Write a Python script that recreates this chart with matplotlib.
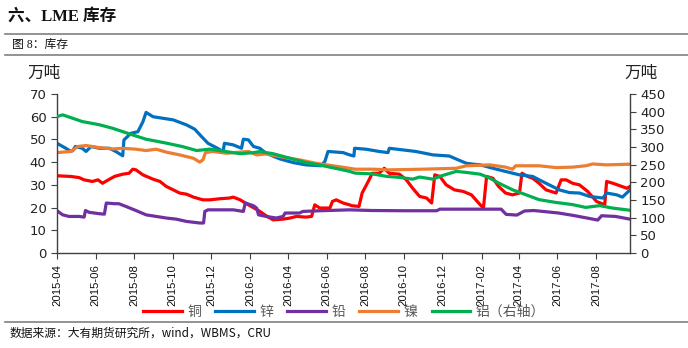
import matplotlib
matplotlib.use("Agg")
import matplotlib.pyplot as plt
from matplotlib.lines import Line2D
import pandas as pd

plt.rcParams['font.family'] = ['DejaVu Sans', 'Noto Sans CJK SC']

# ---------------- data (万吨) ----------------
copper_dates = ["2015-04-01","2015-04-23","2015-05-06","2015-05-14","2015-05-27","2015-06-05","2015-06-12",
    "2015-06-20","2015-07-01","2015-07-14","2015-07-24","2015-07-30","2015-08-04","2015-08-15","2015-08-31",
    "2015-09-11","2015-09-21","2015-10-02","2015-10-12","2015-10-23","2015-11-03","2015-11-18","2015-11-29",
    "2015-12-15","2015-12-30","2016-01-05","2016-01-16","2016-01-29","2016-02-14","2016-02-26","2016-03-08",
    "2016-03-24","2016-04-04","2016-04-14","2016-04-29","2016-05-08","2016-05-13","2016-05-21","2016-06-06",
    "2016-06-10","2016-06-16","2016-06-27","2016-07-07","2016-07-11","2016-07-22","2016-07-27","2016-08-07",
    "2016-08-12","2016-08-23","2016-08-31","2016-09-08","2016-09-24","2016-10-05","2016-10-15","2016-10-26",
    "2016-11-06","2016-11-14","2016-11-19","2016-11-27","2016-12-07","2016-12-20","2017-01-03","2017-01-16",
    "2017-01-30","2017-02-04","2017-02-09","2017-02-19","2017-02-28","2017-03-11","2017-03-22","2017-04-02",
    "2017-04-06","2017-04-15","2017-04-23","2017-05-03","2017-05-14","2017-05-30","2017-06-07","2017-06-15",
    "2017-06-25","2017-07-06","2017-07-19","2017-08-02","2017-08-15","2017-08-18","2017-08-28","2017-09-11",
    "2017-09-19","2017-09-24"]
copper_vals = [34.0,33.7,33.2,32.2,31.5,32.2,30.7,32.0,33.7,34.7,35.1,36.9,36.6,34.4,32.5,31.5,29.3,27.8,26.4,
    25.9,24.6,23.4,23.4,23.9,24.2,24.6,23.4,21.2,18.7,16.4,14.6,14.9,15.4,16.1,15.8,16.1,21.2,19.8,19.8,22.7,
    23.4,22.0,21.2,20.8,20.5,26.4,32.2,35.1,35.1,37.3,35.1,34.7,32.2,28.5,24.9,24.2,22.0,34.4,33.7,30.0,27.8,
    27.1,25.6,21.2,19.8,33.7,32.9,29.3,26.4,25.6,26.4,35.1,33.7,32.9,30.7,27.8,26.4,32.2,32.2,30.7,30.0,27.1,
    22.7,21.2,31.5,30.7,29.3,28.5,29.3]

zinc_dates = ["2015-04-01","2015-04-15","2015-04-23","2015-04-26","2015-04-30","2015-05-11","2015-05-17",
    "2015-05-25","2015-06-07","2015-06-23","2015-07-03","2015-07-14","2015-07-16","2015-07-27","2015-08-07",
    "2015-08-15","2015-08-20","2015-08-31","2015-09-16","2015-10-02","2015-10-23","2015-11-05","2015-11-16",
    "2015-11-26","2015-12-09","2015-12-20","2015-12-22","2016-01-05","2016-01-18","2016-01-21","2016-01-29",
    "2016-02-06","2016-02-16","2016-02-26","2016-03-19","2016-04-09","2016-04-29","2016-05-23","2016-05-29",
    "2016-06-03","2016-06-27","2016-07-07","2016-07-14","2016-07-15","2016-08-02","2016-08-23","2016-09-06",
    "2016-09-08","2016-09-29","2016-10-20","2016-11-16","2016-12-12","2016-12-26","2017-01-08","2017-01-19",
    "2017-01-30","2017-02-19","2017-03-11","2017-04-02","2017-04-23","2017-05-14","2017-06-04","2017-06-20",
    "2017-07-06","2017-07-22","2017-08-12","2017-08-18","2017-09-03","2017-09-12","2017-09-24"]
zinc_vals = [48.3,46.1,44.7,45.1,46.9,46.1,44.7,46.9,46.1,46.1,44.7,42.8,49.8,52.7,53.4,57.8,61.9,60.0,59.3,
    58.6,56.4,54.5,51.2,48.3,46.4,44.7,48.3,47.6,46.1,50.1,49.8,46.9,46.1,43.9,41.4,39.8,38.8,38.4,40.3,44.7,
    44.2,43.2,42.7,46.1,45.7,44.7,44.2,46.1,45.4,44.7,43.2,42.7,41.0,39.5,39.1,38.8,37.3,35.9,34.4,33.7,30.7,
    27.8,26.6,26.4,24.9,24.2,26.4,25.6,24.6,27.8]

lead_dates = ["2015-04-01","2015-04-10","2015-04-20","2015-05-06","2015-05-14","2015-05-16","2015-05-22",
    "2015-06-07","2015-06-15","2015-06-18","2015-07-01","2015-07-08","2015-07-19","2015-08-04","2015-08-20",
    "2015-09-05","2015-09-21","2015-10-07","2015-10-23","2015-11-13","2015-11-19","2015-11-21","2015-11-26",
    "2016-01-05","2016-01-21","2016-01-24","2016-02-06","2016-02-11","2016-02-14","2016-02-26","2016-03-13",
    "2016-03-24","2016-03-27","2016-04-19","2016-04-24","2016-05-21","2016-07-07","2016-08-12","2016-10-05",
    "2016-11-22","2016-11-27","2016-12-23","2017-01-22","2017-03-04","2017-03-12","2017-03-29","2017-04-10",
    "2017-04-25","2017-06-03","2017-06-27","2017-08-04","2017-08-10","2017-09-01","2017-09-24"]
lead_vals = [18.6,16.8,16.1,16.1,15.8,18.7,17.9,17.3,17.1,22.0,21.7,21.7,20.5,18.7,16.8,16.1,15.4,14.9,13.9,
    13.2,13.2,18.3,19.0,19.0,18.3,22.0,20.8,19.8,16.8,16.1,15.4,16.1,17.6,17.6,18.3,18.6,19.0,18.7,18.6,18.6,
    19.3,19.3,19.3,19.3,17.0,16.7,18.5,18.7,17.6,16.5,14.5,16.4,16.1,14.9]

nickel_dates = ["2015-04-01","2015-04-23","2015-05-04","2015-05-17","2015-06-07","2015-06-28","2015-07-14",
    "2015-08-04","2015-08-20","2015-09-05","2015-09-21","2015-10-12","2015-11-03","2015-11-13","2015-11-18",
    "2015-11-22","2015-12-04","2015-12-25","2016-01-29","2016-02-11","2016-02-26","2016-03-24","2016-04-19",
    "2016-05-15","2016-06-11","2016-07-07","2016-07-16","2016-08-12","2016-09-08","2016-10-31","2016-12-23",
    "2017-01-08","2017-02-14","2017-03-11","2017-03-22","2017-03-27","2017-05-03","2017-05-30","2017-06-25",
    "2017-07-16","2017-07-27","2017-08-18","2017-09-24"]
nickel_vals = [44.2,44.7,46.9,47.3,46.4,45.8,46.1,45.7,45.1,45.7,44.4,43.2,41.7,40.0,41.0,44.2,44.7,43.9,
    44.7,43.2,43.6,42.2,41.0,39.5,38.4,37.3,36.9,36.9,36.6,36.9,37.3,38.4,38.8,37.8,36.9,38.4,38.4,37.6,37.8,
    38.4,39.2,38.8,39.1]

aluminium_dates = ["2015-04-01","2015-04-10","2015-05-11","2015-06-07","2015-06-28","2015-07-30","2015-08-20",
    "2015-09-21","2015-10-17","2015-11-08","2015-11-29","2015-12-25","2016-01-16","2016-02-06","2016-02-16",
    "2016-03-08","2016-04-04","2016-04-29","2016-05-26","2016-06-22","2016-07-07","2016-07-16","2016-08-12",
    "2016-09-03","2016-09-24","2016-10-15","2016-10-26","2016-11-16","2016-11-27","2016-12-23","2017-01-08",
    "2017-01-30","2017-02-14","2017-02-28","2017-03-22","2017-04-12","2017-05-03","2017-05-30","2017-06-25",
    "2017-07-16","2017-08-07","2017-08-28","2017-09-24"]
aluminium_vals = [386,391,372,363,353,334,322,311,301,290,294,287,281,284,287,281,268,256,247,237,231,226,224,
    217,214,209,215,209,217,231,228,223,212,198,179,165,151,143,137,129,134,127,121]

left_ticks = [0, 10, 20, 30, 40, 50, 60, 70]
right_ticks = [0, 50, 100, 150, 200, 250, 300, 350, 400, 450]
x_tick_labels = ["2015-04","2015-06","2015-08","2015-10","2015-12","2016-02","2016-04","2016-06",
                 "2016-08","2016-10","2016-12","2017-02","2017-04","2017-06","2017-08"]
series_names = ["铜", "锌", "铅", "镍", "铝（右轴）"]
colors = ["#FF0000", "#0070C0", "#7030A0", "#ED7D31", "#00B050"]

# ---------------- figure ----------------
W, H = 688, 348
fig = plt.figure(figsize=(W/100, H/100), dpi=100)
ax = fig.add_axes([57/W, 1-253/H, (630-57)/W, (253-94)/H])
ax2 = ax.twinx()

lw = 2.3
left_series = [(copper_dates, copper_vals), (zinc_dates, zinc_vals), (lead_dates, lead_vals),
               (nickel_dates, nickel_vals)]
handles = []
for (d, v), c, n in zip(left_series, colors[:4], series_names[:4]):
    h, = ax.plot(pd.to_datetime(d), v, color=c, lw=lw, label=n, solid_joinstyle='round')
    handles.append(h)
h, = ax2.plot(pd.to_datetime(aluminium_dates), aluminium_vals, color=colors[4], lw=lw,
              label=series_names[4], solid_joinstyle='round')
handles.append(h)

ax.set_ylim(0, 70)
ax.set_yticks(left_ticks)
ax2.set_ylim(0, 450)
ax2.set_yticks(right_ticks)
ax.set_xlim(pd.Timestamp("2015-04-01"), pd.Timestamp("2017-09-24"))
ax.set_xticks(pd.to_datetime([t + "-01" for t in x_tick_labels]))
ax.set_xticklabels(x_tick_labels, rotation=90, fontsize=8.2,
                   family=['Liberation Sans', 'DejaVu Sans'], color="#111111")

for a in (ax, ax2):
    a.spines['top'].set_visible(False)
    for s in a.spines.values():
        s.set_color("#404040")
        s.set_linewidth(1.0)
    a.tick_params(axis='y', labelsize=9.5, length=4, direction='out', colors="#404040", labelcolor="#222222")
ax.tick_params(axis='x', length=4, direction='out', colors="#404040", labelcolor="#111111", pad=4)
ax.spines['right'].set_visible(False)
ax2.spines['left'].set_visible(False)
ax2.spines['bottom'].set_visible(False)

# units
cjk = ['Noto Sans CJK SC', 'DejaVu Sans']
fig.text(27/W, 1-73/H, "万吨", fontsize=12, family=cjk, va='center', ha='left', color="#222222")
fig.text(624/W, 1-73/H, "万吨", fontsize=12, family=cjk, va='center', ha='left', color="#222222")

# header
fig.text(8/W, 1-17/H, "六、LME 库存", fontsize=12, fontweight='bold',
         family=['Liberation Serif', 'Noto Sans CJK SC'], va='center', ha='left', color="#111111")
fig.add_artist(Line2D([5/W, 1.0], [1-34/H, 1-34/H], color="#808080", lw=1.2))
fig.text(12/W, 1-45/H, "图 8：库存", fontsize=8.5, family=['Liberation Serif', 'Noto Sans CJK SC'],
         va='center', ha='left', color="#111111")
fig.add_artist(Line2D([5/W, 1.0], [1-55/H, 1-55/H], color="#808080", lw=1.2))

# legend
fig.legend(handles=handles, labels=series_names, loc='center', bbox_to_anchor=(344/W, 1-312/H),
           ncol=5, frameon=False, handlelength=2.8, handletextpad=0.4, columnspacing=1.0,
           borderpad=0.0, prop={'family': cjk, 'size': 10}, labelcolor="#595959")

# footer
fig.add_artist(Line2D([5/W, 1.0], [1-322/H, 1-322/H], color="#808080", lw=1.2))
fig.text(10/W, 1-333/H, "数据来源：大有期货研究所，wind，WBMS，CRU", fontsize=8.5, style='italic',
         family=cjk, va='center', ha='left', color="#111111")

fig.savefig("out.png", dpi=100)
